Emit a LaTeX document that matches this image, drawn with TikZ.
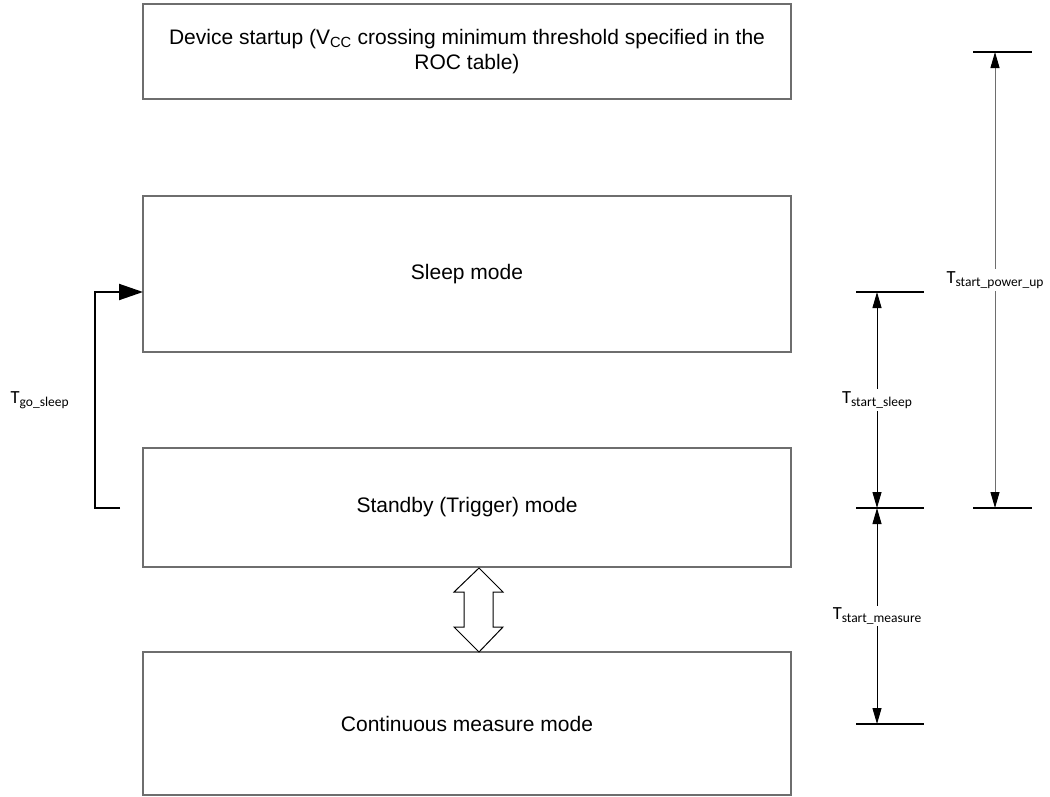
\documentclass[tikz,border=0pt]{standalone}
\usepackage{fontspec}
\setmainfont{Liberation Sans}
\newfontfamily\calibri{Carlito}
\usetikzlibrary{arrows.meta}
\definecolor{boxgray}{RGB}{110,110,110}
\newcommand\tlab[1]{{\calibri\fontsize{18.5}{22}\selectfont T\raisebox{-3pt}{\fontsize{13.5}{16}\selectfont #1}}}
\tikzset{
  modebox/.style={draw=boxgray, line width=1.5pt, minimum width=648pt, align=center, font=\fontsize{21}{25}\selectfont},
  tickline/.style={line width=2pt},
  dimline/.style={line width=1pt, {Triangle[length=16pt,width=9pt,color=black]}-{Triangle[length=16pt,width=9pt,color=black]}},
  dimlabel/.style={fill=white, inner sep=2pt}
}
\begin{document}
\begin{tikzpicture}[x=1pt,y=-1pt]
\useasboundingbox (0,0) rectangle (1050,796);
% mode boxes
\node[modebox, minimum height=95pt] (startup) at (467,51.5) {Device startup (V\textsubscript{CC} crossing minimum threshold specified in the\\ROC table)};
\node[modebox, minimum height=156pt] (sleep) at (467,274) {Sleep mode};
\node[modebox, minimum height=119pt] (standby) at (467,507.5) {Standby (Trigger) mode};
\node[modebox, minimum height=143pt] (measure) at (467,723.5) {Continuous measure mode};
% go sleep loop
\coordinate (fbstart) at (120,508);
\coordinate (fbend) at (143,292);
\draw[line width=2pt, -{Triangle[length=24pt,width=16pt]}] (fbstart) -- (95,508) -- node[left=22pt]{\tlab{go\_sleep}} (95,292) -- (fbend);
% standby <-> continuous
\draw[line width=1pt, shift={(479,610)}] (0,-42) -- (24,-18) -- (14,-18) -- (14,17) -- (24,17) -- (0,42) -- (-25,17) -- (-15,17) -- (-15,-18) -- (-25,-18) -- cycle;
% timing marks
\coordinate (sl1) at (856,292);\coordinate (sl2) at (924,292);
\coordinate (sb1) at (856,508);\coordinate (sb2) at (924,508);
\coordinate (ms1) at (856,724);\coordinate (ms2) at (924,724);
\coordinate (pt1) at (973,52);\coordinate (pt2) at (1032,52);
\coordinate (pb1) at (973,508);\coordinate (pb2) at (1032,508);
\draw[tickline] (sl1) -- (sl2);\draw[tickline] (sb1) -- (sb2);\draw[tickline] (ms1) -- (ms2);
\draw[tickline] (pt1) -- (pt2);\draw[tickline] (pb1) -- (pb2);
\draw[dimline] (877,292) -- node[dimlabel]{\tlab{start\_sleep}} (877,508);
\draw[dimline] (877,508) -- node[dimlabel]{\tlab{start\_measure}} (877,724);
\draw[dimline, draw=boxgray] (995,52) -- node[dimlabel]{\tlab{start\_power\_up}} (995,508);
\end{tikzpicture}
\end{document}
